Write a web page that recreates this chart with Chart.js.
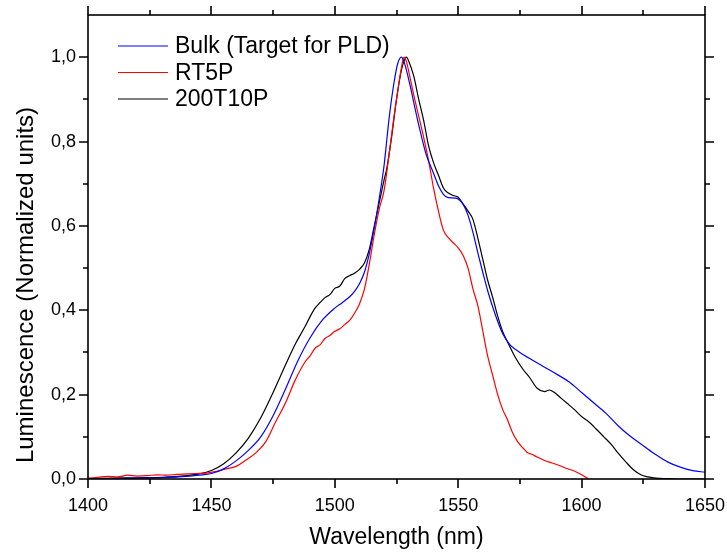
<!DOCTYPE html>
<html>
<head>
<meta charset="utf-8">
<script src="https://cdn.jsdelivr.net/npm/chart.js@4.4.1/dist/chart.umd.min.js"></script>
<style>
  html, body { margin: 0; padding: 0; background: #fff; }
  #wrap { width: 727px; height: 553px; }
</style>
</head>
<body>
<div id="wrap"><canvas id="chart"></canvas></div>
<script>
// wavelength (nm) / normalized luminescence
const bulkX = [1400, 1410, 1420, 1430, 1440, 1445, 1450, 1455, 1460, 1465, 1470, 1475, 1480, 1485, 1490, 1495, 1500, 1503, 1506, 1508, 1510, 1512, 1514, 1516, 1518, 1520, 1522, 1524, 1525.5, 1527, 1528, 1529, 1531, 1533, 1535, 1537, 1540, 1542, 1544, 1546, 1549, 1552, 1554, 1556, 1558, 1560, 1562, 1565, 1568, 1571, 1575, 1580, 1585, 1590, 1595, 1600, 1605, 1610, 1615, 1620, 1625, 1630, 1635, 1640, 1645, 1650];
const bulkY = [0.000, 0.001, 0.002, 0.003, 0.006, 0.009, 0.013, 0.024, 0.043, 0.068, 0.100, 0.150, 0.213, 0.280, 0.335, 0.377, 0.405, 0.418, 0.432, 0.445, 0.463, 0.49, 0.535, 0.595, 0.665, 0.745, 0.855, 0.94, 0.985, 1.0, 0.99, 0.97, 0.92, 0.865, 0.815, 0.77, 0.725, 0.695, 0.675, 0.667, 0.666, 0.651, 0.625, 0.584, 0.535, 0.489, 0.445, 0.39, 0.345, 0.318, 0.300, 0.282, 0.265, 0.248, 0.230, 0.205, 0.180, 0.155, 0.125, 0.100, 0.079, 0.058, 0.040, 0.028, 0.020, 0.016];

const rtX = [1400, 1404, 1408, 1412, 1416, 1420, 1424, 1428, 1432, 1436, 1440, 1444, 1448, 1452, 1456, 1460, 1464, 1468, 1472, 1476, 1480, 1484, 1488, 1490, 1492, 1494, 1496, 1498, 1500, 1502, 1504, 1506, 1508, 1510, 1512, 1514, 1516, 1518, 1520, 1522, 1524, 1526, 1527, 1528, 1529, 1530, 1532, 1534, 1536, 1538, 1540, 1542, 1544, 1546, 1548, 1550, 1552, 1554, 1556, 1558, 1560, 1562, 1564, 1566, 1568, 1570, 1572, 1574, 1576, 1578, 1580, 1582, 1585, 1588, 1591, 1594, 1597, 1600, 1602, 1603];
const rtY = [0.002, 0.004, 0.006, 0.005, 0.009, 0.007, 0.008, 0.010, 0.009, 0.011, 0.012, 0.013, 0.014, 0.018, 0.024, 0.030, 0.045, 0.062, 0.088, 0.135, 0.180, 0.235, 0.278, 0.292, 0.31, 0.318, 0.333, 0.340, 0.350, 0.356, 0.366, 0.376, 0.393, 0.415, 0.45, 0.51, 0.58, 0.64, 0.685, 0.77, 0.86, 0.94, 0.975, 1.0, 0.99, 0.965, 0.91, 0.86, 0.81, 0.755, 0.69, 0.635, 0.59, 0.572, 0.560, 0.548, 0.53, 0.50, 0.45, 0.41, 0.35, 0.29, 0.245, 0.20, 0.165, 0.14, 0.11, 0.089, 0.075, 0.063, 0.058, 0.052, 0.044, 0.038, 0.032, 0.025, 0.019, 0.010, 0.003, 0.0];

const t10X = [1400, 1410, 1420, 1430, 1440, 1445, 1450, 1455, 1460, 1465, 1470, 1475, 1480, 1484, 1488, 1490, 1492, 1494, 1496, 1498, 1500, 1502, 1504, 1506, 1508, 1510, 1512, 1514, 1516, 1518, 1520, 1521, 1523, 1525, 1527, 1528, 1529, 1530, 1532, 1534, 1536, 1538, 1540, 1542, 1544, 1546, 1548, 1550, 1552, 1554, 1556, 1558, 1560, 1562, 1564, 1566, 1568, 1570, 1573, 1576, 1579, 1582, 1585, 1587, 1589, 1591, 1594, 1597, 1600, 1603, 1606, 1609, 1612, 1615, 1618, 1621, 1624, 1627, 1630, 1635, 1640, 1650];
const t10Y = [0.001, 0.002, 0.003, 0.004, 0.008, 0.012, 0.020, 0.036, 0.062, 0.097, 0.145, 0.205, 0.27, 0.32, 0.362, 0.385, 0.405, 0.418, 0.43, 0.437, 0.452, 0.457, 0.475, 0.482, 0.488, 0.497, 0.512, 0.545, 0.60, 0.655, 0.71, 0.734, 0.81, 0.90, 0.97, 0.99, 1.0, 0.99, 0.955, 0.9, 0.85, 0.79, 0.75, 0.72, 0.69, 0.678, 0.672, 0.668, 0.652, 0.635, 0.615, 0.57, 0.52, 0.47, 0.43, 0.386, 0.35, 0.325, 0.29, 0.262, 0.24, 0.215, 0.207, 0.211, 0.205, 0.195, 0.18, 0.165, 0.148, 0.135, 0.118, 0.10, 0.082, 0.06, 0.04, 0.022, 0.01, 0.005, 0.002, 0.001, 0.0, 0.0];

const seriesLabels = ['Bulk (Target for PLD)', 'RT5P', '200T10P'];
const seriesColors = ['#0000ff', '#ff0000', '#000000'];

const xTicks = [1400, 1450, 1500, 1550, 1600, 1650];
const yTicks = [0, 0.2, 0.4, 0.6, 0.8, 1.0];

const toPoints = (xs, ys) => xs.map((x, i) => ({ x: x, y: ys[i] }));

const FONT = 'Liberation Sans, Arial, sans-serif';

// frame, outward tick marks on all four sides, legend and y title
const originFrame = {
  id: 'originFrame',
  afterDraw(chart) {
    const { ctx, chartArea: a, scales } = chart;
    const xs = scales.x, ys = scales.y;
    ctx.save();
    ctx.strokeStyle = '#000';
    ctx.lineWidth = 1.6;
    ctx.strokeRect(a.left, a.top, a.right - a.left, a.bottom - a.top);

    const major = 9, minor = 5;
    ctx.beginPath();
    for (let v = 1400; v <= 1650; v += 25) {
      const px = Math.round(xs.getPixelForValue(v));
      const len = xTicks.includes(v) ? major : minor;
      ctx.moveTo(px, a.bottom); ctx.lineTo(px, a.bottom + len);
      ctx.moveTo(px, a.top); ctx.lineTo(px, a.top - len);
    }
    for (let i = 0; i <= 10; i++) {
      const py = Math.round(ys.getPixelForValue(i / 10));
      const len = i % 2 === 0 ? major : minor;
      ctx.moveTo(a.left, py); ctx.lineTo(a.left - len, py);
      ctx.moveTo(a.right, py); ctx.lineTo(a.right + len, py);
    }
    ctx.stroke();

    // legend
    ctx.font = '23px ' + FONT;
    ctx.textBaseline = 'middle';
    ctx.textAlign = 'left';
    chart.data.datasets.forEach((ds, i) => {
      const y = a.top + 31 + i * 26.5;
      ctx.strokeStyle = ds.borderColor;
      ctx.lineWidth = 1.2;
      ctx.beginPath();
      ctx.moveTo(a.left + 30, y); ctx.lineTo(a.left + 80, y);
      ctx.stroke();
      ctx.fillStyle = '#000';
      ctx.fillText(ds.label, a.left + 87, y + 1);
    });

    // y axis title (Origin puts it a bit below centre)
    ctx.translate(26, 285);
    ctx.rotate(-Math.PI / 2);
    ctx.font = '24px ' + FONT;
    ctx.textAlign = 'center';
    ctx.fillText('Luminescence (Normalized units)', 0, 0);
    ctx.restore();
  }
};

const ctx = document.getElementById('chart').getContext('2d');
new Chart(ctx, {
  type: 'line',
  data: {
    datasets: [
      { label: seriesLabels[0], data: toPoints(bulkX, bulkY), borderColor: seriesColors[0] },
      { label: seriesLabels[1], data: toPoints(rtX, rtY), borderColor: seriesColors[1] },
      { label: seriesLabels[2], data: toPoints(t10X, t10Y), borderColor: seriesColors[2] },
    ],
  },
  options: {
    responsive: true,
    maintainAspectRatio: false,
    animation: false,
    devicePixelRatio: 1,
    layout: { padding: { top: 15, right: 22, left: 0, bottom: 0 } },
    elements: {
      point: { radius: 0 },
      line: { borderWidth: 1.2, cubicInterpolationMode: 'monotone', fill: false },
    },
    plugins: { legend: { display: false }, tooltip: { enabled: false } },
    scales: {
      x: {
        type: 'linear',
        min: 1400,
        max: 1650,
        afterFit: (s) => { s.height = 74; s.paddingLeft = 0; s.paddingRight = 0; },
        grid: { display: false, drawTicks: false },
        border: { display: false },
        ticks: {
          stepSize: 50,
          padding: 16,
          color: '#000',
          font: { family: FONT, size: 18 },
          maxRotation: 0,
          callback: (v) => String(v),
        },
        title: {
          display: true,
          text: 'Wavelength (nm)',
          color: '#000',
          font: { family: FONT, size: 23 },
          padding: { top: 0, bottom: 2 },
        },
      },
      y: {
        type: 'linear',
        min: 0,
        max: 1.1,
        afterFit: (s) => { s.width = 88; s.paddingTop = 0; s.paddingBottom = 0; },
        grid: { display: false, drawTicks: false },
        border: { display: false },
        ticks: {
          stepSize: 0.2,
          includeBounds: false,
          padding: 12,
          color: '#000',
          font: { family: FONT, size: 18 },
          callback: (v) => v.toFixed(1).replace('.', ','),
        },
      },
    },
  },
  plugins: [originFrame],
});
</script>
</body>
</html>
